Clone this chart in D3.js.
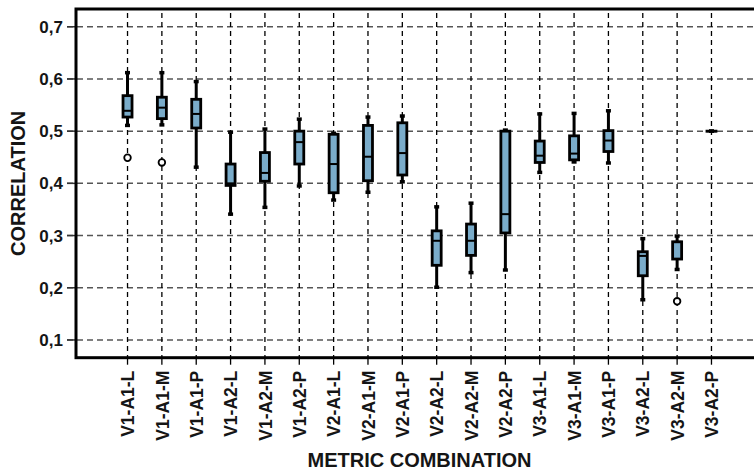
<!DOCTYPE html>
<html>
<head>
<meta charset="utf-8">
<script src="https://cdn.jsdelivr.net/npm/d3@7"></script>
<style>
	body { margin: 0; background: #fff; }
	svg { display: block; font-family: 'Liberation Sans', Arial, sans-serif; font-weight: bold; }
</style>
</head>
<body>
<div class="chart"></div>
<script>
const categories = ['V1-A1-L', 'V1-A1-M', 'V1-A1-P', 'V1-A2-L', 'V1-A2-M', 'V1-A2-P',
	'V2-A1-L', 'V2-A1-M', 'V2-A1-P', 'V2-A2-L', 'V2-A2-M', 'V2-A2-P',
	'V3-A1-L', 'V3-A1-M', 'V3-A1-P', 'V3-A2-L', 'V3-A2-M', 'V3-A2-P']
const whiskerLow = [0.511, 0.512, 0.431, 0.341, 0.354, 0.395, 0.368, 0.383, 0.403, 0.201, 0.229, 0.234, 0.421, 0.441, 0.439, 0.177, 0.235, 0.500]
const q1 = [0.527, 0.524, 0.506, 0.396, 0.404, 0.437, 0.382, 0.405, 0.416, 0.243, 0.262, 0.305, 0.440, 0.445, 0.461, 0.223, 0.255, 0.500]
const median = [0.539, 0.545, 0.533, 0.400, 0.420, 0.479, 0.437, 0.451, 0.458, 0.290, 0.290, 0.341, 0.453, 0.457, 0.482, 0.261, 0.288, 0.500]
const q3 = [0.568, 0.565, 0.561, 0.437, 0.459, 0.500, 0.494, 0.511, 0.516, 0.309, 0.322, 0.500, 0.481, 0.491, 0.501, 0.269, 0.288, 0.500]
const whiskerHigh = [0.612, 0.612, 0.595, 0.498, 0.504, 0.523, 0.496, 0.527, 0.529, 0.355, 0.362, 0.502, 0.533, 0.534, 0.539, 0.294, 0.299, 0.500]
const outliers = [
	{ cat: 'V1-A1-L', value: 0.449 },
	{ cat: 'V1-A1-M', value: 0.440 },
	{ cat: 'V3-A2-M', value: 0.174 },
]
const yTicks = [0.1, 0.2, 0.3, 0.4, 0.5, 0.6, 0.7]

const width = 754
const height = 471
const plot = { left: 76, right: 763, top: 9, bottom: 357.7 }
const boxW = 9

const svg = d3.select('.chart').append('svg')
	.attr('width', width)
	.attr('height', height)

const x = d3.scaleBand()
	.domain(categories)
	.range([plot.left, plot.right])
	.paddingInner(0)
	.paddingOuter(1)
const cx = d => x(d) + x.bandwidth() / 2

const y = d3.scaleLinear()
	.domain([0.066, 0.734])
	.range([plot.bottom, plot.top])

const fmt = d => d3.format('.1f')(d).replace('.', ',')

// horizontal grid + ticks
svg.append('g')
	.selectAll('line')
	.data(yTicks)
	.join('line')
		.attr('x1', plot.left - 9)
		.attr('x2', width)
		.attr('y1', d => y(d))
		.attr('y2', d => y(d))
		.attr('stroke', '#555')
		.attr('stroke-width', 1.5)
		.attr('stroke-dasharray', '6,4')

svg.append('g')
	.selectAll('line')
	.data(yTicks)
	.join('line')
		.attr('x1', plot.left - 9)
		.attr('x2', plot.left)
		.attr('y1', d => y(d))
		.attr('y2', d => y(d))
		.attr('stroke', '#333')
		.attr('stroke-width', 1.5)

// vertical grid + ticks
svg.append('g')
	.selectAll('line')
	.data(categories)
	.join('line')
		.attr('x1', d => cx(d))
		.attr('x2', d => cx(d))
		.attr('y1', plot.top + 4)
		.attr('y2', plot.bottom)
		.attr('stroke', '#000')
		.attr('stroke-width', 1.3)
		.attr('stroke-dasharray', '5,4')

svg.append('g')
	.selectAll('line')
	.data(categories)
	.join('line')
		.attr('x1', d => cx(d))
		.attr('x2', d => cx(d))
		.attr('y1', plot.bottom)
		.attr('y2', plot.bottom + 7)
		.attr('stroke', '#000')
		.attr('stroke-width', 1.3)

// frame
svg.append('rect')
	.attr('x', plot.left)
	.attr('y', plot.top)
	.attr('width', plot.right - plot.left)
	.attr('height', plot.bottom - plot.top)
	.attr('fill', 'none')
	.attr('stroke', '#000')
	.attr('stroke-width', 3)

// y tick labels
svg.append('g')
	.selectAll('text')
	.data(yTicks)
	.join('text')
		.attr('x', plot.left - 13)
		.attr('y', d => y(d))
		.attr('dy', '0.36em')
		.attr('text-anchor', 'end')
		.attr('font-size', 17)
		.attr('fill', '#151515')
		.text(fmt)

// x tick labels
svg.append('g')
	.selectAll('text')
	.data(categories)
	.join('text')
		.attr('transform', d => `translate(${cx(d)},${plot.bottom + 13}) rotate(-90)`)
		.attr('dy', '0.38em')
		.attr('text-anchor', 'end')
		.attr('font-size', 17.5)
		.attr('fill', '#151515')
		.text(d => d)

// axis titles
svg.append('text')
	.attr('x', (plot.left + plot.right) / 2)
	.attr('y', 467)
	.attr('text-anchor', 'middle')
	.attr('font-size', 20)
	.attr('fill', '#151515')
	.text('METRIC COMBINATION')

svg.append('text')
	.attr('transform', `translate(25,${(plot.top + plot.bottom) / 2}) rotate(-90)`)
	.attr('text-anchor', 'middle')
	.attr('font-size', 20)
	.attr('fill', '#151515')
	.text('CORRELATION')

// boxes
const boxes = categories.map((c, i) => ({
	cat: c, lo: whiskerLow[i], q1: q1[i], med: median[i], q3: q3[i], hi: whiskerHigh[i],
}))

const g = svg.append('g')
const box = g.selectAll('g')
	.data(boxes)
	.join('g')

box.append('line')
	.attr('x1', d => cx(d.cat))
	.attr('x2', d => cx(d.cat))
	.attr('y1', d => y(d.lo))
	.attr('y2', d => y(d.hi))
	.attr('stroke', '#000')
	.attr('stroke-width', 3)

box.selectAll('.cap')
	.data(d => [{ cat: d.cat, v: d.lo }, { cat: d.cat, v: d.hi }])
	.join('line')
		.attr('class', 'cap')
		.attr('x1', d => cx(d.cat) - 2.5)
		.attr('x2', d => cx(d.cat) + 2.5)
		.attr('y1', d => y(d.v))
		.attr('y2', d => y(d.v))
		.attr('stroke', '#000')
		.attr('stroke-width', 3.5)

// a zero-height rect is not drawn, so keep a tiny height for flat boxes
box.append('rect')
	.attr('x', d => cx(d.cat) - boxW / 2)
	.attr('y', d => y(d.q3))
	.attr('width', boxW)
	.attr('height', d => Math.max(y(d.q1) - y(d.q3), 0.1))
	.attr('fill', '#7aacca')
	.attr('stroke', '#000')
	.attr('stroke-width', 2.8)

box.append('line')
	.attr('x1', d => cx(d.cat) - boxW / 2)
	.attr('x2', d => cx(d.cat) + boxW / 2)
	.attr('y1', d => y(d.med))
	.attr('y2', d => y(d.med))
	.attr('stroke', '#000')
	.attr('stroke-width', 2)

// outliers
g.selectAll('circle')
	.data(outliers)
	.join('circle')
		.attr('cx', d => cx(d.cat))
		.attr('cy', d => y(d.value))
		.attr('r', 3.3)
		.attr('fill', '#fff')
		.attr('stroke', '#000')
		.attr('stroke-width', 1.8)
</script>
</body>
</html>
